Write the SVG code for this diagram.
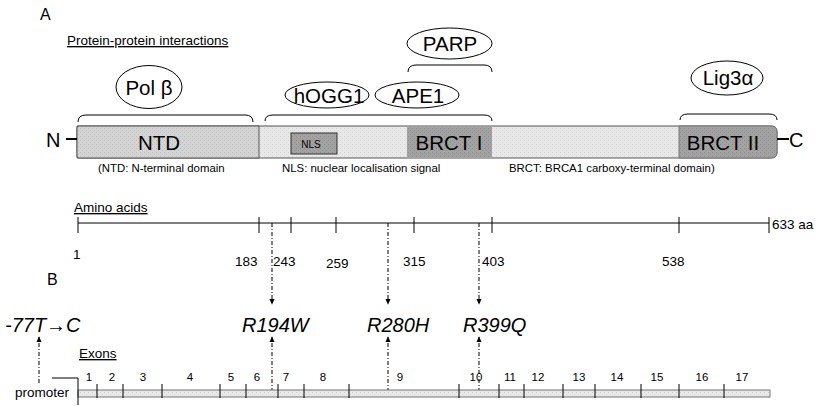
<svg xmlns="http://www.w3.org/2000/svg" width="817" height="406" viewBox="0 0 817 406">
<defs>
<pattern id="pLight" width="4" height="4" patternUnits="userSpaceOnUse">
<rect width="4" height="4" fill="#e9e9e9"/>
<rect x="0" y="0" width="1" height="1" fill="#cfcfcf"/>
<rect x="2" y="2" width="1" height="1" fill="#d6d6d6"/>
</pattern>
<pattern id="pMid" width="4" height="4" patternUnits="userSpaceOnUse">
<rect width="4" height="4" fill="#d4d4d4"/>
<rect x="0" y="0" width="1" height="1" fill="#b8b8b8"/>
<rect x="2" y="2" width="1" height="1" fill="#bdbdbd"/>
</pattern>
<pattern id="pDark" width="4" height="4" patternUnits="userSpaceOnUse">
<rect width="4" height="4" fill="#a3a3a3"/>
<rect x="0" y="0" width="1" height="1" fill="#888"/>
<rect x="2" y="2" width="1" height="1" fill="#8d8d8d"/>
</pattern>
<marker id="ah" viewBox="0 0 8 8" refX="7" refY="4" markerWidth="6" markerHeight="6" orient="auto" markerUnits="userSpaceOnUse">
<path d="M0,0.5 L8,4 L0,7.5 Z" fill="#000"/>
</marker>
<style>
text{font-family:"Liberation Sans",Arial,sans-serif;fill:#000}
.lbl{font-size:20.5px;text-anchor:middle}
.ell{fill:#fff;stroke:#000;stroke-width:1}
.brace{fill:none;stroke:#000;stroke-width:1}
.small{font-size:11.4px}
.ax{stroke:#000;stroke-width:1;fill:none}
.tick{stroke:#000;stroke-width:1}
.num{font-size:13.5px}
.ex{font-size:11.5px;text-anchor:middle}
.mut{font-size:20px;font-style:italic}
.dd{stroke:#000;stroke-width:1;stroke-dasharray:4 2 1 2;fill:none;marker-end:url(#ah)}
.ul{text-decoration:underline;font-size:13.5px}
</style>
</defs>
<rect width="817" height="406" fill="#fff"/>

<text x="40" y="20" style="font-size:16px">A</text>
<text x="67" y="45" class="ul">Protein-protein interactions</text>

<!-- protein bar -->
<g id="protein">
<path d="M77,126 H771 Q777,126 777,132 V152 Q777,158 771,158 H77 Z" fill="url(#pLight)" stroke="#555" stroke-width="1"/>
<path d="M79,126 H259 V158 H79 Q77,158 77,156 V128 Q77,126 79,126 Z" fill="url(#pMid)" stroke="#555" stroke-width="1"/>
<rect x="407" y="126" width="85" height="32" fill="url(#pDark)"/>
<path d="M679,126 H771 Q777,126 777,132 V152 Q777,158 771,158 H679 Z" fill="url(#pDark)" stroke="#777" stroke-width="1"/>
<line x1="66" y1="139" x2="77" y2="139" stroke="#000" stroke-width="2"/>
<line x1="777" y1="139" x2="789" y2="139" stroke="#000" stroke-width="2"/>
<text x="46" y="147" style="font-size:20px">N</text>
<text x="789" y="147" style="font-size:20px">C</text>
<text x="159" y="150" class="lbl">NTD</text>
<text x="449" y="150" class="lbl">BRCT I</text>
<text x="723" y="150" class="lbl">BRCT II</text>
</g>
<g id="nls">
<rect x="291" y="133" width="46" height="21" fill="url(#pDark)" stroke="#333" stroke-width="1"/>
<text x="311" y="147.5" style="font-size:10px;text-anchor:middle">NLS</text>
</g>
<text x="98" y="172" class="small">(NTD: N-terminal domain</text>
<text x="282" y="172" class="small">NLS: nuclear localisation signal</text>
<text x="509" y="172" class="small">BRCT: BRCA1 carboxy-terminal domain)</text>

<!-- braces -->
<g id="braces">
<path class="brace" d="M78,122 Q78,115 86,115 H245 Q253,115 253,122"/>
<path class="brace" d="M265,121 Q265,115 273,115 H484 Q492,115 492,121"/>
<path class="brace" d="M408,72 Q408,65 416,65 H484 Q492,65 492,72"/>
<path class="brace" d="M680,120 Q680,114 688,114 H769 Q777,114 777,120"/>
</g>

<g id="polb"><ellipse class="ell" cx="149" cy="87" rx="33" ry="21.5"/><text x="149" y="94.5" class="lbl">Pol β</text></g>
<g id="hogg1"><ellipse class="ell" cx="327" cy="95" rx="42" ry="13"/><text x="329" y="102.5" class="lbl">hOGG1</text></g>
<g id="ape1"><ellipse class="ell" cx="417" cy="95" rx="42" ry="13"/><text x="418" y="102.5" class="lbl">APE1</text></g>
<g id="parp"><ellipse class="ell" cx="449.5" cy="43.5" rx="42.5" ry="15.5"/><text x="450" y="51" class="lbl">PARP</text></g>
<g id="lig3"><ellipse class="ell" cx="727" cy="78" rx="36" ry="17"/><text x="728" y="85" class="lbl">Lig3α</text></g>

<!-- amino acid axis -->
<g id="aa-axis">
<text x="74" y="212" class="ul">Amino acids</text>
<line class="ax" x1="78" y1="223" x2="769" y2="223"/>
<line class="tick" x1="78" y1="217" x2="78" y2="233" stroke="#555"/>
<line class="tick" x1="259" y1="217" x2="259" y2="233"/>
<line class="tick" x1="291" y1="217" x2="291" y2="233"/>
<line class="tick" x1="336" y1="217" x2="336" y2="233"/>
<line class="tick" x1="414" y1="217" x2="414" y2="233"/>
<line class="tick" x1="492" y1="217" x2="492" y2="233"/>
<line class="tick" x1="679" y1="217" x2="679" y2="233"/>
<line class="tick" x1="769" y1="217" x2="769" y2="233" stroke="#555"/>
<text x="772" y="229" class="num">633 aa</text>
<text x="73" y="259" class="num">1</text>
<text x="235" y="266" class="num">183</text>
<text x="273" y="266" class="num">243</text>
<text x="326" y="268" class="num">259</text>
<text x="403" y="266" class="num">315</text>
<text x="482" y="266" class="num">403</text>
<text x="662" y="266" class="num">538</text>
</g>

<text x="47" y="285" style="font-size:16px">B</text>

<!-- mutations -->
<g id="m77"><text x="5" y="332" class="mut">-77T→C</text></g>
<g id="r194w"><text x="242" y="332" class="mut">R194W</text></g>
<g id="r280h"><text x="367" y="332" class="mut">R280H</text></g>
<g id="r399q"><text x="463" y="332" class="mut">R399Q</text></g>

<!-- connectors -->
<g id="connectors">
<path class="dd" d="M272,223 V304"/>
<path class="dd" d="M388,223 V304"/>
<path class="dd" d="M479,223 V304"/>
<path class="dd" d="M39,383 V337"/>
<path class="dd" d="M272,392 V337"/>
<path class="dd" d="M388,392 V337"/>
<path class="dd" d="M479,392 V337"/>
</g>

<!-- exons -->
<g id="exons">
<text x="79" y="358" class="ul">Exons</text>
<rect x="78" y="390" width="692" height="7" fill="url(#pLight)" stroke="#777" stroke-width="1"/>
<path d="M52,378 H78 V405" fill="none" stroke="#000" stroke-width="1"/>
<text x="15" y="397" style="font-size:13.5px">promoter</text>
<g stroke="#000" stroke-width="1">
<line x1="97" y1="384" x2="97" y2="398"/>
<line x1="123" y1="384" x2="123" y2="398"/>
<line x1="162" y1="384" x2="162" y2="398"/>
<line x1="220" y1="384" x2="220" y2="398"/>
<line x1="246" y1="384" x2="246" y2="398"/>
<line x1="278" y1="384" x2="278" y2="398"/>
<line x1="304" y1="384" x2="304" y2="398"/>
<line x1="349" y1="384" x2="349" y2="398"/>
<line x1="459" y1="384" x2="459" y2="398"/>
<line x1="499" y1="384" x2="499" y2="398"/>
<line x1="524" y1="384" x2="524" y2="398"/>
<line x1="563" y1="384" x2="563" y2="398"/>
<line x1="595" y1="384" x2="595" y2="398"/>
<line x1="641" y1="384" x2="641" y2="398"/>
<line x1="679" y1="384" x2="679" y2="398"/>
<line x1="724" y1="384" x2="724" y2="398"/>
</g>
<text x="89" y="381" class="ex">1</text>
<text x="112" y="381" class="ex">2</text>
<text x="143" y="381" class="ex">3</text>
<text x="190" y="381" class="ex">4</text>
<text x="231" y="381" class="ex">5</text>
<text x="257" y="381" class="ex">6</text>
<text x="286" y="381" class="ex">7</text>
<text x="323" y="381" class="ex">8</text>
<text x="400" y="381" class="ex">9</text>
<text x="476" y="381" class="ex">10</text>
<text x="510" y="381" class="ex">11</text>
<text x="538" y="381" class="ex">12</text>
<text x="579" y="381" class="ex">13</text>
<text x="617" y="381" class="ex">14</text>
<text x="657" y="381" class="ex">15</text>
<text x="702" y="381" class="ex">16</text>
<text x="742" y="381" class="ex">17</text>
</g>
</svg>
